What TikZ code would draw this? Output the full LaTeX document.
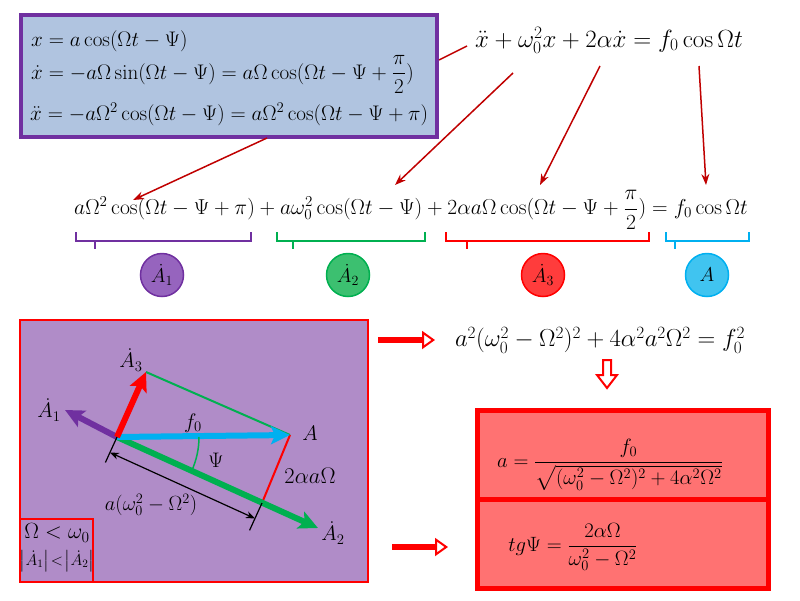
\documentclass[tikz,border=0pt]{standalone}
\usepackage{fix-cm}
\usepackage{amsmath}
\usetikzlibrary{arrows.meta,calc}
\definecolor{boxblue}{RGB}{176,196,224}
\definecolor{vpurple}{RGB}{112,48,160}
\definecolor{vgreen}{RGB}{0,176,80}
\definecolor{vred}{RGB}{255,0,0}
\definecolor{vblue}{RGB}{0,176,240}
\definecolor{darkred}{RGB}{192,0,0}
\definecolor{lilac}{RGB}{176,140,200}
\definecolor{salmon}{RGB}{255,114,114}
\definecolor{fpurple}{RGB}{150,100,190}
\definecolor{fgreen}{RGB}{60,192,112}
\definecolor{fred}{RGB}{255,60,60}
\definecolor{fblue}{RGB}{64,196,240}
\tikzset{
  big/.style={font=\fontsize{21.6}{26}\selectfont, inner sep=1pt},
  lbl/.style={font=\fontsize{21}{24}\selectfont, inner sep=0pt},
  pointer/.style={darkred, line width=1.5pt, -{Stealth[length=11pt,width=8pt]}},
  bracket/.style={line width=2.5pt},
  phasor/.style={circle, minimum size=43pt, inner sep=0pt, line width=1.5pt, font=\fontsize{20}{22}\selectfont},
  vec/.style={line width=6pt, -{Stealth[length=19pt,width=18pt,inset=4pt]}},
  fat/.style={vred, line width=6pt, -{Triangle[open,fill=white,length=13pt,width=18pt,line width=2pt]}},
}
\begin{document}
\begin{tikzpicture}[x=1pt,y=-1pt]
  \useasboundingbox[fill=white] (0,0) rectangle (800,600);
  % equations of motion
  \draw[vpurple, line width=3.5pt, fill=boxblue] (21,15) rectangle (437,137);
  \draw[big, font=\fontsize{21.1}{25}\selectfont]
    (30,46) node[anchor=base west] (k1) {$x=a\cos(\Omega t-\Psi)$}
    (30,79) node[anchor=base west] (k2) {$\dot x=-a\Omega\sin(\Omega t-\Psi)=a\Omega\cos(\Omega t-\Psi+\dfrac{\pi}{2})$}
    (29,120) node[anchor=base west] (k3) {$\ddot x=-a\Omega^2\cos(\Omega t-\Psi)=a\Omega^2\cos(\Omega t-\Psi+\pi)$};
  \node[big, font=\fontsize{24.9}{29}\selectfont] (eq) at (609,40) {$\ddot x+\omega_0^2x+2\alpha\dot x=f_0\cos\Omega t$};
  \node[big] (sum) at (411,210) {$a\Omega^2\cos(\Omega t-\Psi+\pi)+a\omega_0^2\cos(\Omega t-\Psi)+2\alpha a\Omega\cos(\Omega t-\Psi+\dfrac{\pi}{2})=f_0\cos\Omega t$};
  \coordinate (e0) at (467,46);  \coordinate (b0) at (439,60);
  \coordinate (b1) at (267,138); \coordinate (s1) at (133,200);
  \coordinate (e1) at (513,73);  \coordinate (s2) at (395,185);
  \coordinate (e2) at (600,66);  \coordinate (s3) at (540,185);
  \coordinate (e3) at (699,66);  \coordinate (s4) at (706,185);
  \draw[darkred, line width=1.5pt] (e0) -- (b0);
  \foreach \a/\b in {b1/s1, e1/s2, e2/s3, e3/s4}
    \draw[pointer] (\a) -- (\b);
  % terms and their phasors
  \foreach \l/\r/\t/\c in {76/251/95/vpurple, 277/425/293/vgreen, 446/649/467/vred, 666/749/675/vblue}
    \draw[bracket, \c] (\l,232) -- (\l,241) -- (\r,241) -- (\r,232) (\t,241) -- (\t,249);
  \foreach \x/\c/\f/\n/\s in {162/vpurple/fpurple/c1/{\dot A_1}, 348/vgreen/fgreen/c2/{\dot A_2}, 543/vred/fred/c3/{\dot A_3}, 707/vblue/fblue/c4/A}
    \node[phasor, draw=\c, fill=\f] (\n) at (\x,275) {$\s$};
  % vector diagram
  \draw[vred, line width=2pt, fill=lilac] (20,320) rectangle (368,582);
  \draw[vred, line width=2pt] (20,519) rectangle (93,582);
  \coordinate (O) at (117,437);
  \coordinate (A) at (290,435);
  \coordinate (P) at (262,503);
  \coordinate (T1) at (65,410);
  \coordinate (T2) at (318,528);
  \coordinate (T3) at (146,372);
  \draw[vgreen, line width=2pt] (T3) -- (A);
  \draw[vred, line width=2pt] (A) -- (P);
  \draw[vec, vgreen] (O) -- (T2);
  \draw[vec, vpurple] (O) -- (T1);
  \draw[vec, vblue] (O) -- (A);
  \draw[vec, vred] (O) -- (T3);
  \draw[vgreen, line width=1.5pt] ($(O)+(82pt,0pt)$) arc[start angle=0, end angle=-24.5, radius=82pt];
  \draw[line width=1.2pt] (O) -- ($(O)!28pt!-90:(P)$) (P) -- ($(P)!30pt!90:(O)$);
  \draw[line width=1.2pt, {Stealth[length=9pt,width=7pt]}-{Stealth[length=9pt,width=7pt]}]
    ($(O)!17pt!-90:(P)$) -- ($(P)!17pt!90:(O)$);
  \draw[lbl]
    (131,360) node (l3) {$\dot A_3$}
    (49,410) node (l1) {$\dot A_1$}
    (193,423) node (lf) {$f_0$}
    (310,433) node (lA) {$A$}
    (216,460) node (lpsi) {$\Psi$}
    (310,476) node[font=\fontsize{22.5}{25}\selectfont] (lfr) {$2\alpha a\Omega$}
    (151,505) node[font=\fontsize{20.5}{24}\selectfont] (lel) {$a(\omega_0^2-\Omega^2)$}
    (333,533) node (l2) {$\dot A_2$};
  \draw[lbl]
    (57,533) node[font=\fontsize{22}{24}\selectfont] (cond1) {$\Omega<\omega_0$}
    (57,561) node[font=\fontsize{16}{18}\selectfont] (cond2) {$\bigl|\dot A_1\bigr|\!<\!\bigl|\dot A_2\bigr|$};
  % amplitude and phase
  \node[big, font=\fontsize{24.6}{29}\selectfont] (amp) at (600,340) {$a^2(\omega_0^2-\Omega^2)^2+4\alpha^2a^2\Omega^2=f_0^2$};
  \coordinate (f1) at (378,340); \coordinate (g1) at (435,340);
  \draw[fat] (f1) -- (g1);
  \draw[vred, line width=2pt, fill=white] (603,360) -- (611,360) -- (611,375) -- (617,375) -- (607,388) -- (597,375) -- (603,375) -- cycle;
  \draw[vred, line width=5pt, fill=salmon] (477,410) rectangle (768,588);
  \draw[vred, line width=5pt] (477,499) -- (768,499);
  \node[big, font=\fontsize{20.7}{25}\selectfont] (res1) at (610,465) {$a=\dfrac{f_0}{\sqrt{(\omega_0^2-\Omega^2)^2+4\alpha^2\Omega^2}}$};
  \node[big, font=\fontsize{20.7}{25}\selectfont] (res2) at (573,547) {$tg\Psi=\dfrac{2\alpha\Omega}{\omega_0^2-\Omega^2}$};
  \coordinate (f2) at (392,547); \coordinate (g2) at (448,547);
  \draw[fat] (f2) -- (g2);
\end{tikzpicture}
\end{document}
